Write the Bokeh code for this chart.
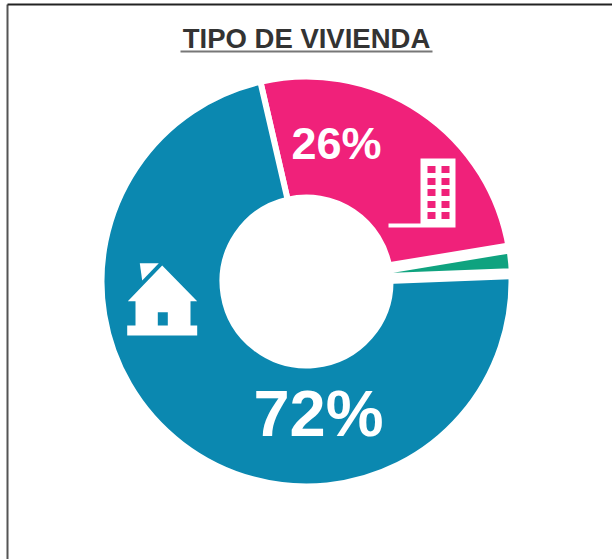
import numpy as np
from bokeh.plotting import figure
from bokeh.models import Range1d
from bokeh.core.properties import value
from bokeh.embed import file_html
from bokeh.resources import INLINE

title_text = "TIPO DE VIVIENDA"
categories = ["Casa", "Departamento", "Otro"]
shares = [72, 26, 2]
labels = ["72%", "26%"]
colors = ["#0b88b0", "#f0217a", "#0fa37f"]

house_x = [161.7, 196.7, 190, 190, 196.7, 196.7, 126.7, 126.7, 135, 135, 127.3]
house_y = [265, 300.7, 300.7, 325, 325, 335, 335, 325, 325, 300.7, 300.7]
chimney_x = [139.3, 158.3, 141.7]
chimney_y = [262.7, 262.7, 280]
tower_x = [420, 455, 455, 388, 388, 420]
tower_y = [158, 158, 227, 227, 223, 223]
win_x = [431, 445]
win_y = [169, 181, 192, 204, 215]

W, H = 612, 559
p = figure(width=W, height=H, output_backend="svg", toolbar_location=None,
           x_range=Range1d(0, W), y_range=Range1d(H, 0), min_border=0,
           margin=0)
p.axis.visible = False
p.grid.visible = False
p.outline_line_color = None
p.background_fill_color = "white"

# frame of the page
p.line([7, 7], [4, H], line_color="#555555", line_width=2)
p.line([7, W], [4, 4], line_color="#222222", line_width=2)

cx, cy, R, r = 306, 281, 205, 84
start = np.deg2rad(103.0)
order = [1, 0, 2]  # pink, blue, then the thin green slice on top
edges = {}
a = start
for i in [1, 2, 0]:  # clockwise from the top: pink, green, blue
    sweep = shares[i] / sum(shares) * 2 * np.pi
    edges[i] = (a - sweep, a)
    a -= sweep
for i in order:
    thin = i == 2
    p.annular_wedge(x=cx, y=cy,
                    inner_radius=r - (3 if thin else 0),
                    outer_radius=R + (3 if thin else 0),
                    start_angle=edges[i][0], end_angle=edges[i][1], direction="anticlock",
                    fill_color=colors[i], line_color="white", line_width=11 if thin else 6)

p.text(x=[306], y=[38], text=[title_text], text_font=value("Liberation Sans"),
       text_font_style="bold", text_font_size="27.5px", text_color="#333333",
       text_align="center", text_baseline="middle")
p.line([180, 432], [51, 51], line_color="#777777", line_width=2)

p.text(x=[318], y=[413], text=[labels[0]], text_font=value("Liberation Sans"),
       text_font_style="bold", text_font_size="65px", text_color="white",
       text_align="center", text_baseline="middle")
p.text(x=[336], y=[143], text=[labels[1]], text_font=value("Liberation Sans"),
       text_font_style="bold", text_font_size="45px", text_color="white",
       text_align="center", text_baseline="middle")

# icons
p.patch(house_x, house_y, fill_color="white", line_color=None)
p.patch(chimney_x, chimney_y, fill_color="white", line_color=None)
p.quad(left=[157.3], right=[167.3], top=[311.7], bottom=[325], fill_color=colors[0], line_color=None)
p.patch(tower_x, tower_y, fill_color="white", line_color=None)
wx = [x for x in win_x for _ in win_y]
wy = [y for _ in win_x for y in win_y]
p.rect(x=wx, y=wy, width=8, height=7, fill_color=colors[1], line_color=None)

open("out.html", "w").write(file_html(p, INLINE))
